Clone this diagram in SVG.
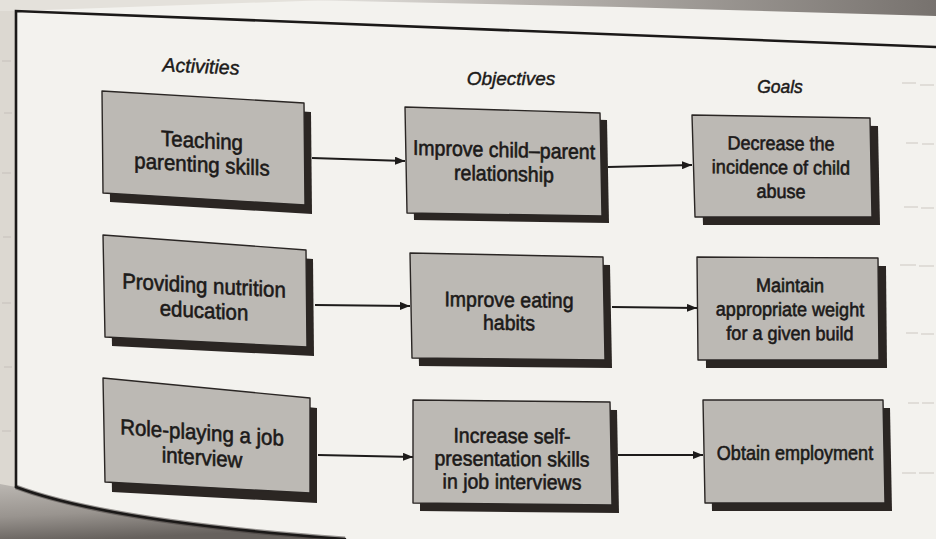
<svg xmlns="http://www.w3.org/2000/svg" width="936" height="539" viewBox="0 0 936 539">
  <defs>
    <linearGradient id="topBand" x1="0" y1="0" x2="1" y2="0">
      <stop offset="0" stop-color="#e9e7e3"/>
      <stop offset="0.35" stop-color="#b9b5b0"/>
      <stop offset="1" stop-color="#77726e"/>
    </linearGradient>
    <linearGradient id="curl" x1="0" y1="0" x2="0.3" y2="1">
      <stop offset="0" stop-color="#bbb7b2"/>
      <stop offset="0.55" stop-color="#99948f"/>
      <stop offset="1" stop-color="#66615d"/>
    </linearGradient>
    <marker id="arrow" viewBox="0 0 10 8" refX="10" refY="4" markerWidth="10" markerHeight="8" markerUnits="userSpaceOnUse" orient="auto">
      <path d="M0,0 L10,4 L0,8 Z" fill="#1d1b1a"/>
    </marker>
    <style>
      .face { fill: #bcb9b4; stroke: #2a2624; stroke-width: 1.4; stroke-linejoin: round; }
      .shadow { fill: #2b2623; }
      .lbl { font-family: "Liberation Sans", Arial, sans-serif; fill: #1c1a19; stroke: #1c1a19; stroke-width: 0.6; text-anchor: middle; }
      .c1 { font-size: 22px; }
      .c2 { font-size: 21px; }
      .c3 { font-size: 19.4px; }
      .head { font-family: "Liberation Sans", Arial, sans-serif; font-style: italic; fill: #1c1a19; stroke: #1c1a19; stroke-width: 0.45; text-anchor: middle; }
      .edge { fill: none; stroke: #1d1b1a; stroke-width: 2; marker-end: url(#arrow); }
      .frame { fill: none; stroke: #1b1918; stroke-width: 2.6; stroke-linecap: round; }
      .bleed { fill: #bdb8b2; opacity: 0.35; }
    </style>
  </defs>

  <!-- page -->
  <rect width="936" height="539" fill="#f3f2ee"/>
  <!-- margin of the page outside the frame -->
  <rect x="0" y="0" width="16" height="490" fill="#dcd8d1"/>
  <polygon points="0,0 330,0 16,11 0,11" fill="#e4e1db"/>
  <polygon points="300,0 936,0 936,16 620,7" fill="url(#topBand)"/>

  <!-- faint show-through from the facing page -->
  <g class="bleed">
    <rect x="2" y="60" width="9" height="2"/>
    <rect x="4" y="112" width="8" height="2"/>
    <rect x="2" y="172" width="9" height="2"/>
    <rect x="3" y="236" width="8" height="2"/>
    <rect x="2" y="302" width="9" height="2"/>
    <rect x="4" y="366" width="8" height="2"/>
    <rect x="2" y="430" width="9" height="2"/>
    <rect x="902" y="82" width="14" height="2"/><rect x="920" y="84" width="14" height="2"/>
    <rect x="906" y="142" width="12" height="2"/><rect x="922" y="143" width="12" height="2"/>
    <rect x="904" y="206" width="14" height="2"/><rect x="921" y="207" width="13" height="2"/>
    <rect x="900" y="264" width="16" height="2"/><rect x="919" y="265" width="15" height="2"/>
    <rect x="906" y="332" width="12" height="2"/><rect x="921" y="333" width="13" height="2"/>
    <rect x="908" y="402" width="11" height="2"/><rect x="922" y="402" width="12" height="2"/>
    <rect x="902" y="472" width="14" height="2"/><rect x="919" y="472" width="15" height="2"/>
  </g>

  <!-- curled lower-left corner of the page -->
  <path d="M0,484 L16,487 Q110,522 345,539 L0,539 Z" fill="url(#curl)"/>
  <path d="M16,487 Q110,522 345,539" fill="none" stroke="#3b3633" stroke-width="5" opacity="0.5"/>

  <!-- frame -->
  <path class="frame" d="M16,487 L16,11 Q420,26 936,47"/>
  <path class="frame" d="M16,487 Q110,522 345,539"/>

  <!-- column headings -->
  <text class="head" x="0" y="0" font-size="19.5" transform="translate(201,73) skewY(2.5)">Activities</text>
  <text class="head" x="511" y="85" font-size="19">Objectives</text>
  <text class="head" x="780" y="93" font-size="17.5">Goals</text>

  <!-- connectors -->
  <g id="connectors">
    <line class="edge" x1="312" y1="158" x2="405" y2="161"/>
    <line class="edge" x1="608" y1="167" x2="692" y2="165"/>
    <line class="edge" x1="315" y1="305" x2="410" y2="306"/>
    <line class="edge" x1="612" y1="307" x2="697" y2="308"/>
    <line class="edge" x1="318" y1="455" x2="413" y2="457"/>
    <line class="edge" x1="618" y1="455" x2="703" y2="455"/>
  </g>

  <!-- activities -->
  <g id="n1">
    <polygon class="shadow" points="102,91 304,103 305,205 103,193" transform="translate(7,9)"/>
    <polygon class="face" points="102,91 304,103 305,205 103,193"/>
    <text class="lbl c1" transform="translate(202,160) skewY(3.3) scale(0.93,1)"><tspan x="0" y="-12">Teaching</tspan><tspan x="0" y="12">parenting skills</tspan></text>
  </g>
  <g id="n4">
    <polygon class="shadow" points="103,235 306,250 307,347 105,337" transform="translate(7,9)"/>
    <polygon class="face" points="103,235 306,250 307,347 105,337"/>
    <text class="lbl c1" transform="translate(204,305) skewY(3.2) scale(0.93,1)"><tspan x="0" y="-12">Providing nutrition</tspan><tspan x="0" y="13">education</tspan></text>
  </g>
  <g id="n7">
    <polygon class="shadow" points="103,378 310,398 310,493 105,482" transform="translate(7,10)"/>
    <polygon class="face" points="103,378 310,398 310,493 105,482"/>
    <text class="lbl c1" transform="translate(202,452) skewY(4) scale(0.93,1)"><tspan x="0" y="-12">Role-playing a job</tspan><tspan x="0" y="13">interview</tspan></text>
  </g>

  <!-- objectives -->
  <g id="n2">
    <polygon class="shadow" points="405,107 600,113 602,216 407,213" transform="translate(7,7)"/>
    <polygon class="face" points="405,107 600,113 602,216 407,213"/>
    <text class="lbl c2" transform="translate(504,169) skewY(1.4) scale(0.93,1)"><tspan x="0" y="-12">Improve child–parent</tspan><tspan x="0" y="12">relationship</tspan></text>
  </g>
  <g id="n5">
    <polygon class="shadow" points="410,253 603,257 605,360 412,358" transform="translate(7,8)"/>
    <polygon class="face" points="410,253 603,257 605,360 412,358"/>
    <text class="lbl c2" transform="translate(509,318) skewY(0.7) scale(0.93,1)"><tspan x="0" y="-11">Improve eating</tspan><tspan x="0" y="12">habits</tspan></text>
  </g>
  <g id="n8">
    <polygon class="shadow" points="413,400 610,402 612,505 413,503" transform="translate(7,8)"/>
    <polygon class="face" points="413,400 610,402 612,505 413,503"/>
    <text class="lbl c2" transform="translate(512,466) skewY(0.5) scale(0.93,1)"><tspan x="0" y="-23">Increase self-</tspan><tspan x="0" y="0">presentation skills</tspan><tspan x="0" y="23">in job interviews</tspan></text>
  </g>

  <!-- goals -->
  <g id="n3">
    <polygon class="shadow" points="692,115 870,118 872,217 695,217" transform="translate(8,8)"/>
    <polygon class="face" points="692,115 870,118 872,217 695,217"/>
    <text class="lbl c3" transform="translate(781,174) skewY(0.6) scale(0.93,1)"><tspan x="0" y="-24">Decrease the</tspan><tspan x="0" y="0">incidence of child</tspan><tspan x="0" y="24">abuse</tspan></text>
  </g>
  <g id="n6">
    <polygon class="shadow" points="697,257 878,258 879,360 698,360" transform="translate(8,8)"/>
    <polygon class="face" points="697,257 878,258 879,360 698,360"/>
    <text class="lbl c3" transform="translate(790,316) skewY(0.3) scale(0.93,1)"><tspan x="0" y="-24">Maintain</tspan><tspan x="0" y="0">appropriate weight</tspan><tspan x="0" y="24">for a given build</tspan></text>
  </g>
  <g id="n9">
    <polygon class="shadow" points="703,400 883,400 885,503 705,503" transform="translate(7,8)"/>
    <polygon class="face" points="703,400 883,400 885,503 705,503"/>
    <text class="lbl c3" transform="translate(795,460) scale(0.93,1)" x="0" y="0">Obtain employment</text>
  </g>
</svg>
